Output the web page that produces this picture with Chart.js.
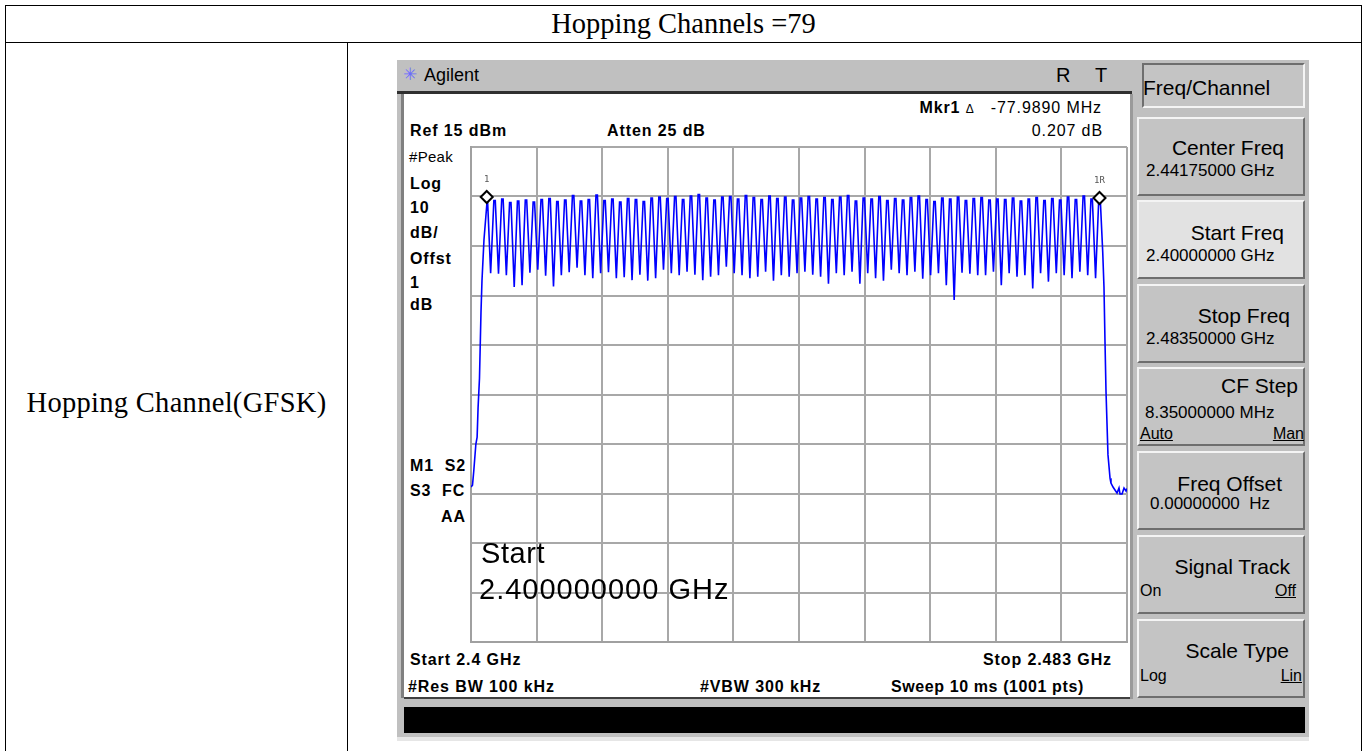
<!DOCTYPE html>
<html>
<head>
<meta charset="utf-8">
<script src="https://cdn.jsdelivr.net/npm/chart.js@4.4.1/dist/chart.umd.min.js"></script>
<style>
  html, body { margin: 0; padding: 0; background: #fff; width: 1367px; height: 751px; overflow: hidden; }
  .cell { position: absolute; border: 1px solid #000; box-sizing: border-box; }
  .serif { position: absolute; font-family: "Liberation Serif", "Times New Roman", serif; font-size: 28.5px; line-height: 30px; color: #000; white-space: nowrap; }
  .box { position: absolute; box-sizing: border-box; }
  .t { position: absolute; font-family: "Liberation Sans", Arial, sans-serif; white-space: nowrap; color: #000; }
  .b { font-weight: bold; font-size: 16px; line-height: 16px; letter-spacing: 0.9px; }
  .n { font-size: 16px; line-height: 16px; letter-spacing: 0.9px; }
  .key { position: absolute; left: 1137px; width: 168px; height: 79px; box-sizing: border-box; background: #c4c4c4;
         border-top: 2px solid #f4f4f4; border-left: 2px solid #f4f4f4; border-bottom: 2px solid #6e6e6e; border-right: 2px solid #6e6e6e; }
  .kt { position: absolute; font-family: "Liberation Sans", Arial, sans-serif; font-size: 21px; line-height: 21px; white-space: nowrap; color: #000; }
  .kv { position: absolute; font-family: "Liberation Sans", Arial, sans-serif; font-size: 17px; line-height: 17px; white-space: nowrap; color: #000; }
  .u { text-decoration: underline; }
</style>
</head>
<body>
<div class="cell" style="left:5px;top:5px;width:1357px;height:38px;"></div>
<div class="cell" style="left:5px;top:42px;width:343px;height:720px;"></div>
<div class="cell" style="left:347px;top:42px;width:1015px;height:720px;"></div>
<div class="serif" style="left:0;width:1367px;text-align:center;top:9px;">Hopping Channels =79</div>
<div class="serif" style="left:5px;width:343px;text-align:center;top:388px;letter-spacing:0.3px;">Hopping Channel(GFSK)</div>

<!-- analyzer frame -->
<div class="box" style="left:397px;top:60px;width:912px;height:681px;background:#c0c0c0;"></div>
<div class="box" style="left:397px;top:91px;width:735px;height:3px;background:#303030;"></div>
<div class="box" style="left:401px;top:94px;width:3px;height:604px;background:#808080;"></div>
<div class="box" style="left:404px;top:94px;width:726px;height:603px;background:#fff;"></div>
<div class="box" style="left:404px;top:697px;width:726px;height:2px;background:#404040;"></div>
<div class="box" style="left:1130px;top:94px;width:3px;height:605px;background:#9a9a9a;"></div>
<div class="box" style="left:404px;top:707px;width:901px;height:26px;background:#000;"></div>
<div class="box" style="left:397px;top:737px;width:912px;height:4px;background:#e6e6e6;"></div>

<div class="t" style="left:403px;top:64px;font-family:'DejaVu Sans';font-size:17px;line-height:20px;color:#6a6aff;">&#10035;</div>
<div class="t" style="left:424px;top:65px;font-size:18px;line-height:20px;">Agilent</div>
<div class="t" style="left:1056px;top:64px;font-size:20px;line-height:22px;">R</div>
<div class="t" style="left:1095px;top:64px;font-size:20px;line-height:22px;">T</div>

<!-- screen annotations -->
<div class="t n" style="right:265px;top:100px;"><b>Mkr1</b> <span style="font-size:12px;">&#916;</span>&nbsp;&nbsp; -77.9890 MHz</div>
<div class="t n" style="right:264px;top:123px;">0.207 dB</div>
<div class="t b" style="left:410px;top:123px;">Ref 15 dBm</div>
<div class="t b" style="left:607px;top:123px;">Atten 25 dB</div>
<div class="t n" style="left:409px;top:149px;font-size:15px;letter-spacing:0.3px;">#Peak</div>
<div class="t b" style="left:410px;top:176px;">Log</div>
<div class="t b" style="left:410px;top:200px;">10</div>
<div class="t b" style="left:410px;top:225px;">dB/</div>
<div class="t b" style="left:410px;top:251px;">Offst</div>
<div class="t b" style="left:410px;top:275px;">1</div>
<div class="t b" style="left:410px;top:297px;">dB</div>
<div class="t b" style="left:410px;top:458px;">M1&nbsp; S2</div>
<div class="t b" style="left:410px;top:483px;">S3&nbsp; FC</div>
<div class="t b" style="left:441px;top:509px;">AA</div>
<div class="t b" style="left:410px;top:652px;">Start 2.4 GHz</div>
<div class="t b" style="right:255px;top:652px;">Stop 2.483 GHz</div>
<div class="t b" style="left:408px;top:679px;">#Res BW 100 kHz</div>
<div class="t b" style="left:700px;top:679px;">#VBW 300 kHz</div>
<div class="t b" style="left:891px;top:679px;letter-spacing:0.6px;">Sweep 10 ms (1001 pts)</div>

<!-- soft keys -->
<div class="box" style="left:1142px;top:63px;width:163px;height:45px;background:#c4c4c4;border:2px solid #f4f4f4;border-left-color:#6e6e6e;border-top-color:#6e6e6e;"></div>
<div class="kt" style="left:1143px;top:77px;">Freq/Channel</div>

<div class="key" style="top:117px;"></div>
<div class="kt" style="right:83px;top:137px;">Center Freq</div>
<div class="kv" style="left:1146px;top:162px;">2.44175000 GHz</div>

<div class="key" style="top:200px;background:#e2e2e2;"></div>
<div class="kt" style="right:83px;top:222px;">Start Freq</div>
<div class="kv" style="left:1146px;top:247px;">2.40000000 GHz</div>

<div class="key" style="top:284px;"></div>
<div class="kt" style="right:77px;top:305px;">Stop Freq</div>
<div class="kv" style="left:1146px;top:330px;">2.48350000 GHz</div>

<div class="key" style="top:367px;"></div>
<div class="kt" style="right:69px;top:375px;">CF Step</div>
<div class="kv" style="left:1145px;top:404px;">8.35000000 MHz</div>
<div class="kv u" style="left:1140px;top:425px;font-size:16px;">Auto</div>
<div class="kv u" style="right:63px;top:425px;font-size:16px;">Man</div>

<div class="key" style="top:451px;"></div>
<div class="kt" style="right:85px;top:473px;">Freq Offset</div>
<div class="kv" style="left:1150px;top:495px;">0.00000000&nbsp; Hz</div>

<div class="key" style="top:535px;"></div>
<div class="kt" style="right:77px;top:556px;">Signal Track</div>
<div class="kv" style="left:1140px;top:582px;font-size:16px;">On</div>
<div class="kv u" style="right:71px;top:582px;font-size:16px;">Off</div>

<div class="key" style="top:619px;"></div>
<div class="kt" style="right:78px;top:640px;">Scale Type</div>
<div class="kv" style="left:1140px;top:667px;font-size:16px;">Log</div>
<div class="kv u" style="right:65px;top:667px;font-size:16px;">Lin</div>

<canvas id="trace" width="672" height="511" style="position:absolute;left:463px;top:139px;"></canvas>

<div class="t" style="left:481px;top:538px;font-size:29px;line-height:31px;letter-spacing:0.6px;">Start</div>
<div class="t" style="left:479px;top:574px;font-size:29px;line-height:31px;letter-spacing:1px;">2.400000000 GHz</div>

<script>
// sweep settings
const startMHz = 2400;
const stopMHz = 2483.5;
const refLevel = 15;
const bottomLevel = -85;
const xGrid = [2400, 2408.35, 2416.7, 2425.05, 2433.4, 2441.75, 2450.1, 2458.45, 2466.8, 2475.15, 2483.5];
const yGrid = [-85, -75, -65, -55, -45, -35, -25, -15, -5, 5, 15];

// hopping channels: 79 channels, 1 MHz apart from 2402 MHz
const firstChannelMHz = 2402;
const channelStepMHz = 1;

// peak level of each channel (dBm)
const peakDbm = [
  4.9, 4.2, 4.5, 3.8, 4.1, 4.3, 3.9, 4.4, 4.6, 4.0, 4.3, 5.2, 4.1, 4.4, 5.3, 4.2, 4.5, 3.9, 4.6, 4.4, 4.0, 4.7,
  4.9, 4.6, 5.0, 4.4, 5.1, 5.4, 4.7, 4.3, 4.9, 5.0, 4.5, 5.2, 4.8, 4.4, 5.1, 4.6, 4.9, 4.3, 4.7, 5.0, 4.5, 4.8,
  4.4, 4.9, 5.2, 4.1, 4.7, 4.5, 5.0, 4.2, 4.6, 4.3, 4.8, 5.1, 4.4, 4.0, 4.7, 4.5, 4.9, 4.2, 4.6, 4.8, 4.3, 4.5,
  4.4, 4.7, 4.1, 4.5, 4.8, 4.2, 4.6, 4.3, 4.9, 4.4, 5.1, 4.5, 4.7
];

// dip level between neighbouring channels (dBm)
const troughDbm = [
  -10.5, -10.6, -10.9, -13.3, -12.9, -10.4, -9.8, -11.0, -13.2, -10.9, -10.3, -9.4, -10.9, -11.5, -10.5, -10.3, -11.5, -11.3, -11.9, -10.8, -12.0,
  -11.5, -9.8, -10.5, -10.9, -10.2, -10.8, -11.9, -11.2, -10.9, -9.2, -10.5, -10.9, -11.5, -11.2, -10.2, -12.0, -10.9, -11.2, -10.5, -10.2, -10.8,
  -11.2, -12.6, -10.5, -10.9, -10.2, -12.6, -10.5, -11.5, -12.0, -9.8, -10.5, -10.9, -10.2, -11.6, -10.9, -10.5, -12.9, -15.9, -10.4, -10.6, -10.9,
  -10.9, -10.2, -12.9, -10.5, -11.2, -10.9, -13.6, -10.5, -12.2, -10.5, -10.9, -11.5, -10.2, -10.9, -11.5
];

// band edges and noise floor
const riseMHz = [2400.0, 2400.19, 2400.35, 2400.62, 2400.78, 2400.9, 2401.08, 2401.27, 2401.4, 2401.65];
const riseDbm = [-53.7, -53.3, -50.5, -45.0, -43.6, -37.7, -31.7, -18.5, -11.9, -3.8];
const fallMHz = [2480.41, 2480.57, 2480.7, 2480.83, 2481.08, 2481.34, 2481.46, 2481.72, 2481.97, 2482.23, 2482.48, 2482.61, 2482.87, 2483.12, 2483.38, 2483.5];
const fallDbm = [-6.2, -13.3, -24.4, -34.5, -47.2, -51.9, -52.9, -53.7, -54.3, -54.9, -53.9, -55.1, -55.1, -53.9, -54.5, -54.0];

// markers: 1 and 1R
const markerMHz = [2402, 2480];
const markerDbm = [4.9, 4.7];
const markerLabels = ['1', '1R'];

// each channel shows a short flat top, then falls to the dip
const topHalfWidthMHz = 0.09;
const trace = [];
riseMHz.forEach((f, i) => trace.push({ x: f, y: riseDbm[i] }));
peakDbm.forEach((p, i) => {
  const f = firstChannelMHz + i * channelStepMHz;
  if (i > 0) trace.push({ x: f - topHalfWidthMHz, y: p });
  trace.push({ x: f + topHalfWidthMHz, y: p });
  if (i < troughDbm.length) trace.push({ x: f + channelStepMHz / 2, y: troughDbm[i] });
});
fallMHz.forEach((f, i) => trace.push({ x: f, y: fallDbm[i] }));

const markerLabelPlugin = {
  id: 'markerLabels',
  afterDatasetsDraw(chart) {
    const ctx = chart.ctx;
    const xs = chart.scales.x, ys = chart.scales.y;
    ctx.save();
    ctx.fillStyle = '#555';
    ctx.font = '9px "DejaVu Sans Mono", monospace';
    ctx.textAlign = 'center';
    markerMHz.forEach((f, i) => {
      ctx.fillText(markerLabels[i], xs.getPixelForValue(f), ys.getPixelForValue(markerDbm[i]) - 15);
    });
    ctx.restore();
  }
};

new Chart(document.getElementById('trace'), {
  type: 'line',
  data: {
    datasets: [
      { data: markerMHz.map((f, i) => ({ x: f, y: markerDbm[i] })), showLine: false,
        pointStyle: 'rectRot', pointRadius: 6, pointBackgroundColor: '#fff', pointBorderColor: '#000', pointBorderWidth: 2 },
      { data: trace, borderColor: '#0000ff', borderWidth: 1.6, pointRadius: 0, tension: 0, fill: false }
    ]
  },
  options: {
    responsive: false,
    animation: false,
    layout: { padding: 2 },
    scales: {
      x: { type: 'linear', min: startMHz, max: stopMHz,
           afterBuildTicks: s => { s.ticks = xGrid.map(v => ({ value: v })); },
           ticks: { display: false },
           grid: { color: '#a8a8a8', lineWidth: 2, drawTicks: false },
           border: { color: '#a0a0a0', width: 2 } },
      y: { type: 'linear', min: bottomLevel, max: refLevel,
           afterBuildTicks: s => { s.ticks = yGrid.map(v => ({ value: v })); },
           ticks: { display: false },
           grid: { color: '#a8a8a8', lineWidth: 2, drawTicks: false },
           border: { color: '#a0a0a0', width: 2 } }
    },
    plugins: { legend: { display: false }, tooltip: { enabled: false } }
  },
  plugins: [markerLabelPlugin]
});
</script>
</body>
</html>
